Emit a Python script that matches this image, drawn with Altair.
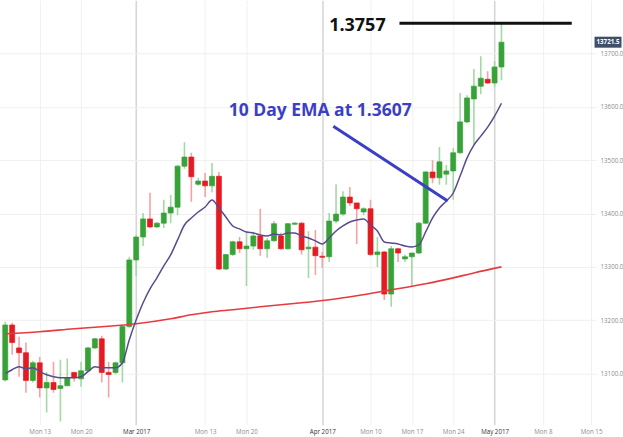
import altair as alt
import pandas as pd

# ---- daily candles (USD/CAD, quoted x10000), one per trading session ----
opens = [13088, 13191, 13148, 13139, 13087, 13120, 13073, 13083, 13072, 13077,
         13102, 13090, 13105, 13148, 13165, 13102, 13102, 13120, 13188, 13313,
         13356, 13390, 13375, 13382, 13401, 13412, 13489, 13506, 13455, 13461,
         13452, 13470, 13296, 13323, 13347, 13334, 13339, 13358, 13334, 13349,
         13358, 13334, 13380, 13382, 13334, 13337, 13320, 13319, 13386, 13399,
         13431, 13420, 13403, 13409, 13323, 13328, 13249, 13334, 13315, 13319,
         13326, 13382, 13478, 13467, 13474, 13480, 13514, 13572, 13615, 13639,
         13652, 13645, 13675]
highs = [13197, 13195, 13169, 13158, 13124, 13131, 13103, 13122, 13126, 13128,
         13103, 13122, 13150, 13167, 13171, 13122, 13122, 13190, 13319, 13360,
         13401, 13439, 13384, 13426, 13435, 13491, 13534, 13514, 13467, 13476,
         13495, 13478, 13324, 13349, 13356, 13366, 13366, 13409, 13354, 13386,
         13364, 13382, 13384, 13384, 13367, 13369, 13328, 13401, 13455, 13442,
         13450, 13420, 13412, 13426, 13356, 13330, 13339, 13336, 13323, 13326,
         13384, 13480, 13500, 13525, 13491, 13523, 13626, 13622, 13671, 13695,
         13667, 13686, 13757]
lows = [13085, 13135, 13094, 13064, 13083, 13055, 13027, 13064, 13010, 13077,
        13085, 13075, 13103, 13146, 13083, 13055, 13098, 13083, 13186, 13283,
        13339, 13373, 13373, 13373, 13382, 13397, 13484, 13422, 13452, 13431,
        13440, 13294, 13294, 13321, 13326, 13264, 13332, 13321, 13317, 13347,
        13332, 13332, 13379, 13323, 13279, 13285, 13298, 13309, 13382, 13396,
        13414, 13343, 13397, 13321, 13300, 13238, 13225, 13309, 13309, 13263,
        13324, 13381, 13457, 13454, 13454, 13426, 13512, 13570, 13529, 13624,
        13643, 13637, 13650]
closes = [13191, 13158, 13139, 13087, 13120, 13073, 13083, 13070, 13077, 13092,
          13092, 13105, 13148, 13165, 13102, 13098, 13120, 13188, 13313, 13356,
          13390, 13375, 13382, 13401, 13412, 13489, 13506, 13469, 13461, 13452,
          13470, 13296, 13323, 13347, 13334, 13339, 13358, 13334, 13349, 13381,
          13334, 13381, 13382, 13332, 13337, 13321, 13318, 13386, 13399, 13431,
          13420, 13409, 13409, 13323, 13328, 13249, 13334, 13326, 13319, 13326,
          13382, 13478, 13467, 13497, 13480, 13514, 13572, 13617, 13639, 13654,
          13645, 13675, 13721.5]

# ---- 10-day EMA (one value per candle) ----
ema10 = [13099.6, 13107.1, 13112.7, 13109.0, 13110.8, 13103.4, 13097.7, 13094.0, 13092.1, 13092.1,
         13092.1, 13094.0, 13103.4, 13112.7, 13110.8, 13110.8, 13110.8, 13120.2, 13163.3, 13200.7,
         13232.6, 13258.8, 13279.4, 13301.9, 13322.5, 13350.6, 13378.6, 13391.8, 13403.0, 13412.4,
         13425.5, 13410.5, 13393.6, 13376.8, 13371.2, 13365.5, 13363.7, 13359.9, 13358.0, 13361.8,
         13359.9, 13363.7, 13363.7, 13358.0, 13354.3, 13348.7, 13343.1, 13354.3, 13367.4, 13376.8,
         13384.3, 13388.0, 13389.9, 13378.6, 13367.4, 13346.8, 13344.9, 13343.1, 13339.3, 13337.4,
         13341.2, 13365.5, 13391.8, 13410.5, 13423.6, 13438.6, 13470.4, 13504.1, 13528.5, 13545.3,
         13562.2, 13582.8, 13607.0]

# ---- 200-day moving average, read at selected candles ----
ma_idx = [0, 5, 10, 14, 19, 24, 27, 30, 33, 37, 43, 47, 51, 56, 61, 65, 68, 72]
ma_vals = [13174.5, 13178.3, 13183.9, 13187.6, 13193.2, 13202.6, 13210.1, 13215.7, 13219.5,
           13225.1, 13232.6, 13238.2, 13245.7, 13256.9, 13268.2, 13279.4, 13288.7, 13300.0]

# ---- axis ticks ----
tick_idx = [5, 11, 19, 29, 35, 46, 53, 59, 65, 71, 78, 85]
tick_labels = ["Mon 13", "Mon 20", "Mar 2017", "Mon 13", "Mon 20", "Apr 2017",
               "Mon 10", "Mon 17", "Mon 24", "May 2017", "Mon 8", "Mon 15"]
month_idx = [19, 46, 71]
price_ticks = [13100, 13200, 13300, 13400, 13500, 13600, 13700]

# ---- annotations ----
high_level = [13757]
high_line_idx = [57.2, 82.2]
high_text_idx = [51.1]
ema_text = ["10 Day EMA at 1.3607"]
ema_text_pos = [45.7, 13592.7]
ema_arrow = [47.6, 13564.0, 64.2, 13423.6]
last_price = [13721.5]

GREEN, RED = "#37a238", "#e31b23"
GREEN_W, RED_W = "#a3d9a3", "#f4a3a5"
FONT = "Open Sans"

candles = pd.DataFrame({"k": list(range(len(opens))), "open": opens, "high": highs,
                        "low": lows, "close": closes})
ema_df = pd.DataFrame({"k": list(range(len(ema10))), "v": ema10})
ma_df = pd.DataFrame({"k": ma_idx, "v": ma_vals})

xscale = alt.Scale(domain=[-0.04, 85.0], nice=False, zero=False)
yscale = alt.Scale(domain=[13004, 13800], nice=False, zero=False)

label_expr = "''"
for k, lab in reversed(list(zip(tick_idx, tick_labels))):
    label_expr = f"datum.value == {k} ? '{lab}' : ({label_expr})"
month_test = "indexof([" + ",".join(str(m) for m in month_idx) + "], datum.value) >= 0"

xaxis = alt.Axis(values=tick_idx, labelExpr=label_expr, title=None, grid=True,
                 gridColor={"condition": {"test": month_test, "value": "#d6d6d6"}, "value": "#f0f0f0"},
                 gridWidth={"condition": {"test": month_test, "value": 1.6}, "value": 1},
                 labelColor={"condition": {"test": month_test, "value": "#333333"}, "value": "#8c8c8c"},
                 domain=False, ticks=False, labelFontSize=6.2, labelFont=FONT, labelPadding=4)
yaxis = alt.Axis(values=price_ticks, format=".1f", orient="right", title=None, grid=True,
                 gridColor="#efefef", domain=False, ticks=False, labelFontSize=6.2,
                 labelFont=FONT, labelColor="#8c8c8c", labelPadding=4)


def X(field="k"):
    return alt.X(f"{field}:Q", scale=xscale, axis=xaxis)


def Y(field):
    return alt.Y(f"{field}:Q", scale=yscale, axis=yaxis)


up = "datum.close >= datum.open"

wicks = alt.Chart(candles).mark_rule(strokeWidth=1.6, clip=True).encode(
    x=X(), y=Y("low"), y2="high",
    color=alt.condition(up, alt.value(GREEN_W), alt.value(RED_W)))

bodies = alt.Chart(candles).mark_bar(width=5, strokeWidth=0.7, clip=True).encode(
    x=X(), y=Y("open"), y2="close",
    color=alt.condition(up, alt.value(GREEN), alt.value(RED)),
    stroke=alt.condition(up, alt.value(GREEN), alt.value(RED)))

ma_line = alt.Chart(ma_df).mark_line(color="#e63a3f", strokeWidth=1.6, clip=True,
                                      interpolate="monotone").encode(x=X(), y=Y("v"))
ema_line = alt.Chart(ema_df).mark_line(color="#5b4a8e", strokeWidth=1.5, clip=True,
                                       interpolate="monotone").encode(x=X(), y=Y("v"))

hl = pd.DataFrame({"k1": [high_line_idx[0]], "k2": [high_line_idx[1]], "p": high_level,
                   "kt": high_text_idx, "t": ["1.3757"]})
high_rule = alt.Chart(hl).mark_rule(color="#111111", strokeWidth=3).encode(
    x=X("k1"), x2="k2", y=Y("p"))
high_text = alt.Chart(hl).mark_text(font=FONT, fontSize=18, fontWeight="bold", color="#111111",
                                    baseline="middle", dy=3).encode(
    x=X("kt"), y=Y("p"), text="t:N")

ea = pd.DataFrame({"k1": [ema_arrow[0]], "p1": [ema_arrow[1]], "k2": [ema_arrow[2]],
                   "p2": [ema_arrow[3]], "kt": [ema_text_pos[0]], "pt": [ema_text_pos[1]],
                   "t": ema_text})
ema_rule = alt.Chart(ea).mark_rule(color="#3b3fc6", strokeWidth=3).encode(
    x=X("k1"), x2="k2", y=Y("p1"), y2="p2")
ema_label = alt.Chart(ea).mark_text(font=FONT, fontSize=17.5, fontWeight="bold", color="#3b3fc6",
                                    baseline="middle").encode(
    x=X("kt"), y=Y("pt"), text="t:N")

lp = pd.DataFrame({"p": last_price, "t": [f"{last_price[0]:.1f}"]})
tag = alt.Chart(lp).mark_tick(orient="horizontal", size=27, thickness=11, color="#3e5068",
                              opacity=1).encode(x=alt.value(609), y=Y("p"))
tag_text = alt.Chart(lp).mark_text(font=FONT, fontSize=6.2, color="white", fontWeight="bold",
                                   baseline="middle").encode(
    x=alt.value(609), y=Y("p"), text="t:N")

chart = alt.layer(wicks, bodies, ma_line, ema_line, high_rule, high_text, ema_rule, ema_label,
                  tag, tag_text).properties(
    width=597, height=425, padding={"left": 0, "top": 0, "right": 0, "bottom": 0},
    background="white"
).configure_view(stroke=None)

chart.save("out.html", embed_options={"renderer": "svg", "actions": False})
